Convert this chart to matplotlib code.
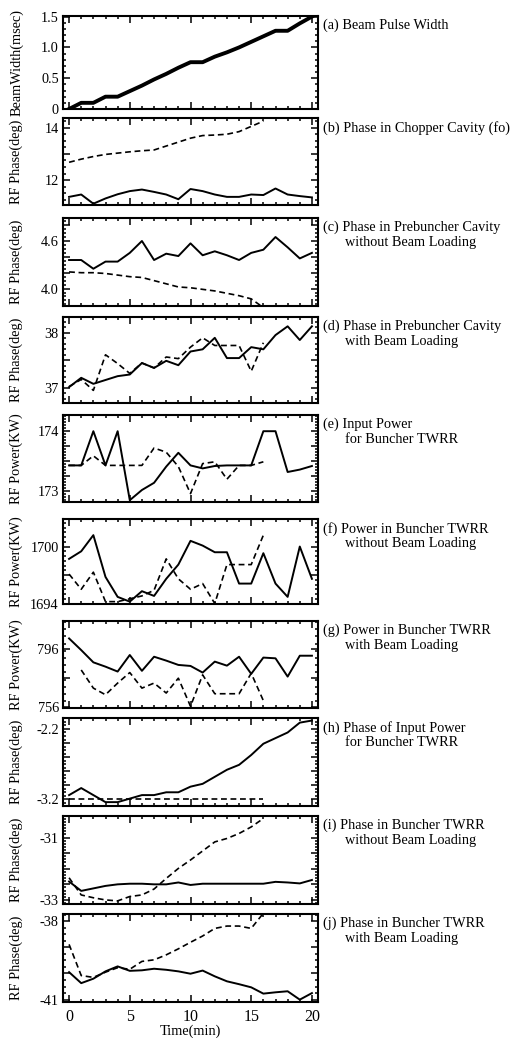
import matplotlib
matplotlib.use("Agg")
import matplotlib.pyplot as plt
from matplotlib.ticker import FixedLocator, FixedFormatter, MultipleLocator

plt.rcParams['font.family'] = ['Liberation Serif', 'DejaVu Serif']

# time axis (min)
time_min = list(range(21))
time_dash = list(range(17))
time_dash_g = list(range(1, 17))

# (a) beam pulse width (msec)
beam_width = [0, 0.1, 0.1, 0.2, 0.2, 0.29, 0.38, 0.48, 0.57, 0.67, 0.76,
              0.76, 0.85, 0.92, 1.0, 1.09, 1.18, 1.27, 1.27, 1.39, 1.5]

# (b) chopper cavity phase
chop_solid = [11.36, 11.45, 11.1, 11.3, 11.46, 11.58, 11.64, 11.55, 11.45, 11.27, 11.66,
              11.58, 11.45, 11.36, 11.36, 11.45, 11.43, 11.68, 11.45, 11.39, 11.34]
chop_dash = [12.68, 12.8, 12.9, 12.98, 13.03, 13.08, 13.12, 13.15, 13.3, 13.45, 13.6,
             13.7, 13.72, 13.75, 13.85, 14.05, 14.25]

# (c) prebuncher phase without beam loading
preb_solid = [4.36, 4.36, 4.25, 4.34, 4.34, 4.45, 4.6, 4.36, 4.44, 4.41, 4.57,
              4.42, 4.47, 4.42, 4.36, 4.45, 4.49, 4.65, 4.52, 4.38, 4.45]
preb_dash = [4.21, 4.2, 4.2, 4.19, 4.17, 4.15, 4.14, 4.1, 4.06, 4.02, 4.01,
             3.99, 3.97, 3.94, 3.91, 3.87, 3.76]

# (d) prebuncher phase with beam loading
prebl_solid = [37.01, 37.18, 37.07, 37.14, 37.21, 37.24, 37.45, 37.36, 37.49, 37.41, 37.66,
               37.70, 37.91, 37.54, 37.54, 37.74, 37.70, 37.96, 38.12, 37.87, 38.12]
prebl_dash = [37.02, 37.15, 36.95, 37.6, 37.44, 37.26, 37.45, 37.36, 37.56, 37.53, 37.74,
              37.91, 37.77, 37.77, 37.77, 37.3, 37.82]

# (e) input power for buncher TWRR (kW)
inp_solid = [173.43, 173.43, 174.0, 173.43, 174.0, 172.85, 173.02, 173.14, 173.41, 173.64, 173.43,
             173.38, 173.42, 173.43, 173.43, 173.43, 174.0, 174.0, 173.32, 173.36, 173.42]
inp_dash = [173.43, 173.43, 173.59, 173.43, 173.43, 173.43, 173.43, 173.72, 173.65, 173.41, 172.96,
            173.46, 173.49, 173.2, 173.43, 173.43, 173.49]

# (f) power in buncher without beam loading (kW)
pw_solid = [1698.7, 1699.5, 1701.2, 1696.8, 1694.7, 1694.2, 1695.3, 1694.8, 1696.6, 1698.1, 1700.6,
            1700.1, 1699.4, 1699.4, 1696.1, 1696.1, 1699.3, 1696.1, 1694.7, 1700.0, 1696.6]
pw_dash = [1697.1, 1695.5, 1697.3, 1694.2, 1694.2, 1694.5, 1694.8, 1695.4, 1698.7, 1696.6, 1695.5,
           1696.1, 1694.0, 1698.1, 1698.1, 1698.1, 1701.2]

# (g) power in buncher with beam loading (kW)
pwl_solid = [803.6, 795.5, 787.0, 784.0, 780.6, 792.1, 781.1, 790.9, 788.2, 785.2, 784.5,
             779.9, 787.5, 784.7, 790.9, 779.0, 790.3, 789.8, 777.1, 791.6, 791.6]
pwl_dash = [781.7, 769.1, 764.5, 772.6, 779.9, 769.1, 772.6, 765.7, 776.0, 756.5,
            778.3, 765.2, 765.2, 765.2, 779.4, 760.4]

# (h) phase of input power
iph_solid = [-3.14, -3.04, -3.14, -3.24, -3.24, -3.19, -3.14, -3.14, -3.10, -3.10, -3.02,
             -2.98, -2.88, -2.78, -2.71, -2.57, -2.41, -2.33, -2.25, -2.11, -2.08]
iph_dash = [-3.2] * 17

# (i) buncher phase without beam loading
bph_solid = [-32.41, -32.71, -32.63, -32.55, -32.5, -32.48, -32.48, -32.5, -32.5, -32.44, -32.52,
             -32.48, -32.48, -32.48, -32.48, -32.48, -32.48, -32.42, -32.44, -32.47, -32.36]
bph_dash = [-32.29, -32.84, -32.93, -33.0, -33.03, -32.89, -32.84, -32.65, -32.31, -31.99, -31.72,
            -31.43, -31.14, -31.03, -30.87, -30.66, -30.39]

# (j) buncher phase with beam loading
bphl_solid = [-39.95, -40.37, -40.2, -39.92, -39.73, -39.9, -39.88, -39.82, -39.86, -39.92, -40.01,
              -39.89, -40.11, -40.3, -40.41, -40.53, -40.77, -40.72, -40.68, -41.0, -40.75]
bphl_dash = [-38.89, -40.08, -40.15, -39.95, -39.78, -39.84, -39.54, -39.48, -39.29, -39.06, -38.81,
             -38.57, -38.28, -38.19, -38.19, -38.28, -37.7]

panels = [
    # ylabel, text lines, solid, dash, dash time, ylim, major ticks, labels, minor step
    ("BeamWidth(msec)", ["(a) Beam Pulse Width"], beam_width, None, None,
     (0, 1.51), [0, 0.5, 1.0, 1.5], ["0", "0.5", "1.0", "1.5"], 0.1),
    ("RF Phase(deg)", ["(b) Phase in Chopper Cavity (fo)"], chop_solid, chop_dash, time_dash,
     (11.05, 14.37), [12, 13, 14], ["12", "", "14"], 0.25),
    ("RF Phase(deg)", ["(c) Phase in Prebuncher Cavity", "without Beam Loading"], preb_solid, preb_dash, time_dash,
     (3.78, 4.89), [4.0, 4.2, 4.4, 4.6, 4.8], ["4.0", "", "", "4.6", ""], 0.05),
    ("RF Phase(deg)", ["(d) Phase in Prebuncher Cavity", "with Beam Loading"], prebl_solid, prebl_dash, time_dash,
     (36.72, 38.29), [37, 37.5, 38], ["37", "", "38"], 0.1),
    ("RF Power(KW)", ["(e) Input Power", "for Buncher TWRR"], inp_solid, inp_dash, time_dash,
     (172.82, 174.27), [173, 173.25, 173.5, 173.75, 174], ["173", "", "", "", "174"], 0.05),
    ("RF Power(KW)", ["(f) Power in Buncher TWRR", "without Beam Loading"], pw_solid, pw_dash, time_dash,
     (1693.95, 1702.9), [1694, 1697, 1700], ["1694", "", "1700"], 0.5),
    ("RF Power(KW)", ["(g) Power in Buncher TWRR", "with Beam Loading"], pwl_solid, pwl_dash, time_dash_g,
     (755.3, 815.7), [756, 776, 796], ["756", "", "796"], 5),
    ("RF Phase(deg)", ["(h) Phase of Input Power", "for Buncher TWRR"], iph_solid, iph_dash, time_dash,
     (-3.295, -2.044), [-3.2, -3.0, -2.8, -2.6, -2.4, -2.2], ["-3.2", "", "", "", "", "-2.2"], 0.05),
    ("RF Phase(deg)", ["(i) Phase in Buncher TWRR", "without Beam Loading"], bph_solid, bph_dash, time_dash,
     (-33.13, -30.31), [-33, -32.5, -32, -31.5, -31], ["-33", "", "", "", "-31"], 0.1),
    ("RF Phase(deg)", ["(j) Phase in Buncher TWRR", "with Beam Loading"], bphl_solid, bphl_dash, time_dash,
     (-41.09, -37.73), [-41, -40, -39, -38], ["-41", "", "", "-38"], 0.25),
]

tops = [16, 118, 218, 317, 415, 519, 621, 718, 816, 914]
bottoms = [109, 205, 306, 403, 502, 604, 708, 806, 904, 1002]

W, H = 515, 1038
fig = plt.figure(figsize=(W / 100, H / 100), dpi=100)
left, right = 63, 318
fs = 10.3

for i, (ylab, lines, solid, dash, tdash, ylim, majors, labels, mstep) in enumerate(panels):
    ax = fig.add_axes([left / W, 1 - bottoms[i] / H, (right - left) / W, (bottoms[i] - tops[i]) / H])
    lw = 2.8 if i == 0 else 1.4
    ax.plot(time_min, solid, color="black", lw=lw)
    if dash is not None:
        ax.plot(tdash, dash, color="black", lw=1.2, linestyle=(0, (3.5, 2.2)))
    ax.set_xlim(-0.5, 20.5)
    ax.set_ylim(*ylim)
    ax.xaxis.set_major_locator(FixedLocator([0, 5, 10, 15, 20]))
    ax.xaxis.set_minor_locator(MultipleLocator(1))
    ax.yaxis.set_major_locator(FixedLocator(majors))
    ax.yaxis.set_major_formatter(FixedFormatter(labels))
    ax.yaxis.set_minor_locator(MultipleLocator(mstep))
    ax.tick_params(which="both", direction="in", top=True, right=True, labelsize=fs, width=1.1)
    ax.tick_params(which="major", length=5, pad=3)
    ax.tick_params(which="minor", length=2.5)
    for sp in ax.spines.values():
        sp.set_linewidth(1.5)
    ax.set_ylabel(ylab, fontsize=fs)
    ax.yaxis.set_label_coords(-0.155, 0.5)
    if i < 9:
        ax.tick_params(labelbottom=False)
    else:
        ax.tick_params(axis="x", labelsize=11.5, pad=5)
        ax.set_xlabel("Time(min)", fontsize=fs, labelpad=0)
    ax.text(1.02, 0.97, lines[0], transform=ax.transAxes, fontsize=fs, va="top", ha="left")
    if len(lines) > 1:
        ax.text(1.107, 0.79, lines[1], transform=ax.transAxes, fontsize=fs, va="top", ha="left")

fig.savefig("out.png", dpi=100)
